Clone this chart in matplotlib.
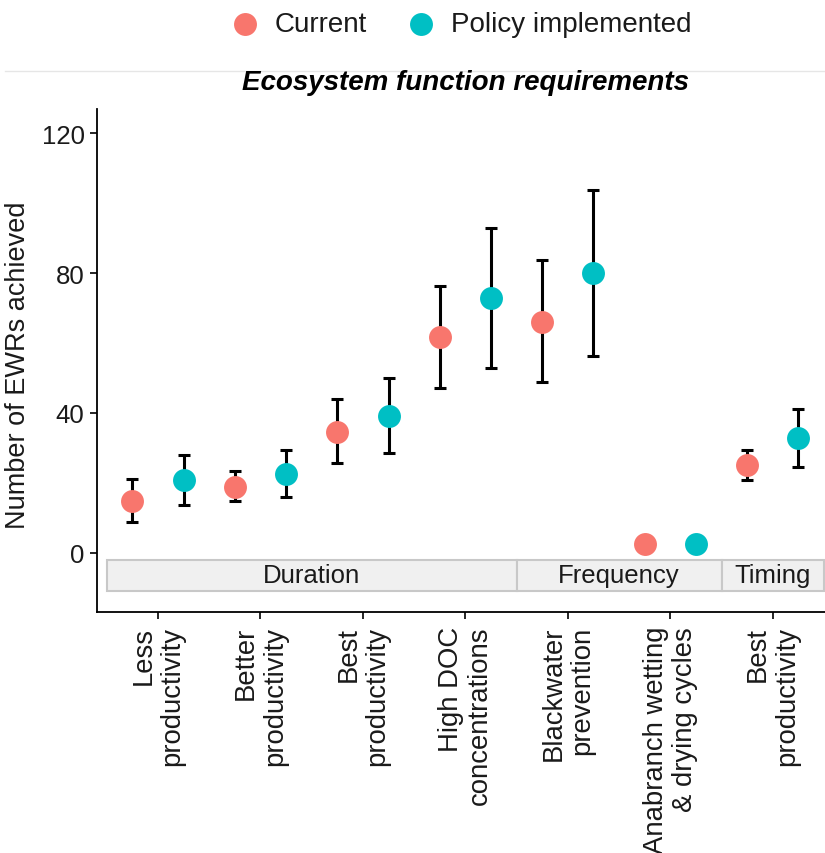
import matplotlib
matplotlib.use("Agg")
import matplotlib.pyplot as plt
from matplotlib.patches import Rectangle
from matplotlib.lines import Line2D
import numpy as np

plt.rcParams['font.family'] = ['Liberation Sans', 'DejaVu Sans']

# Ecosystem water requirement categories (x axis)
categories = ["Less\nproductivity", "Better\nproductivity", "Best\nproductivity",
              "High DOC\nconcentrations", "Blackwater\nprevention",
              "Anabranch wetting\n& drying cycles", "Best\nproductivity"]
# Facet strip per category
facets = ["Duration", "Duration", "Duration", "Duration",
          "Frequency", "Frequency", "Timing"]
facet_names = ["Duration", "Frequency", "Timing"]

# Number of EWRs achieved: mean with lower / upper interval
current_mean = [14.9, 18.8, 34.7, 61.6, 66.1, 2.6, 25.1]
current_lo = [8.9, 14.9, 25.6, 47.1, 48.8, np.nan, 20.9]
current_hi = [21.1, 23.3, 43.9, 76.4, 83.6, np.nan, 29.5]

policy_mean = [20.7, 22.5, 39.2, 72.9, 79.9, 2.4, 32.8]
policy_lo = [13.6, 16.1, 28.6, 52.9, 56.4, np.nan, 24.6]
policy_hi = [28.0, 29.4, 50.0, 92.9, 103.8, np.nan, 41.0]

series = ["Current", "Policy implemented"]
colors = ["#F8766D", "#00BFC4"]

fig = plt.figure(figsize=(8.25, 8.54), dpi=100)
ax = fig.add_axes([97 / 825, 1 - 613 / 854, 728 / 825, 503 / 854])

x = np.arange(len(categories))
dodge = 0.25
for k, (mean, lo, hi) in enumerate([(current_mean, current_lo, current_hi),
                                    (policy_mean, policy_lo, policy_hi)]):
    xs = x + (k - 0.5) * 2 * dodge
    mean = np.array(mean)
    lo = np.array(lo)
    hi = np.array(hi)
    ok = ~np.isnan(lo)
    ax.errorbar(xs[ok], mean[ok], yerr=[mean[ok] - lo[ok], hi[ok] - mean[ok]],
                fmt="none", ecolor="black", elinewidth=2.2, capsize=4,
                capthick=2.2, zorder=2)
    ax.plot(xs, mean, linestyle="none", marker="o", markersize=16.5,
            markerfacecolor=colors[k], markeredgewidth=0, zorder=3)

# Facet strips drawn inside the panel
for name in facet_names:
    idx = [i for i, f in enumerate(facets) if f == name]
    x0 = min(idx) - 0.5
    x1 = max(idx) + 0.5
    ax.add_patch(Rectangle((x0, -10.9), x1 - x0, 8.9, facecolor="#F0F0F0",
                           edgecolor="#C8C8C8", linewidth=1.5, zorder=1))
    ax.text((x0 + x1) / 2, -6.45, name, ha="center", va="center",
            fontsize=18.5, color="#1A1A1A", zorder=2)

ax.set_xlim(-0.595, 6.51)
ax.set_ylim(-16.9, 126.9)
ax.set_yticks([0, 40, 80, 120])
ax.set_xticks(x)
ax.set_xticklabels(categories, rotation=90, ha="center", va="top",
                   multialignment="right", fontsize=19.8, color="#1A1A1A",
                   linespacing=1.15)
ax.tick_params(axis="y", labelsize=18.5, labelcolor="#1A1A1A", length=5,
               width=1.2, pad=4)
ax.tick_params(axis="x", length=5, width=1.2, pad=5)
for s in ["top", "right"]:
    ax.spines[s].set_visible(False)
for s in ["left", "bottom"]:
    ax.spines[s].set_linewidth(1.3)

fig.text(18 / 825, 1 - 365 / 854, "Number of EWRs achieved", rotation=90,
         ha="center", va="center", fontsize=19.5, color="#1A1A1A")
fig.text(466 / 825, 1 - 83 / 854, "Ecosystem function requirements",
         ha="center", va="center", fontsize=20, fontweight="bold",
         fontstyle="italic")

# Divider between legend and panel
fig.add_artist(Line2D([5 / 825, 1.0], [1 - 72 / 854, 1 - 72 / 854],
                      transform=fig.transFigure, color="#E6E6E6", linewidth=1))

# Legend row
legend_marker_x = [245, 421]
legend_y = 1 - 25 / 854
for mx, c, label in zip(legend_marker_x, colors, series):
    fig.add_artist(Line2D([mx / 825], [legend_y], transform=fig.transFigure,
                          linestyle="none", marker="o", markersize=16.5,
                          markerfacecolor=c, markeredgewidth=0))
    fig.text((mx + 30) / 825, legend_y, label, ha="left", va="center",
             fontsize=20, color="#1A1A1A")

fig.savefig("out.png", dpi=100)
